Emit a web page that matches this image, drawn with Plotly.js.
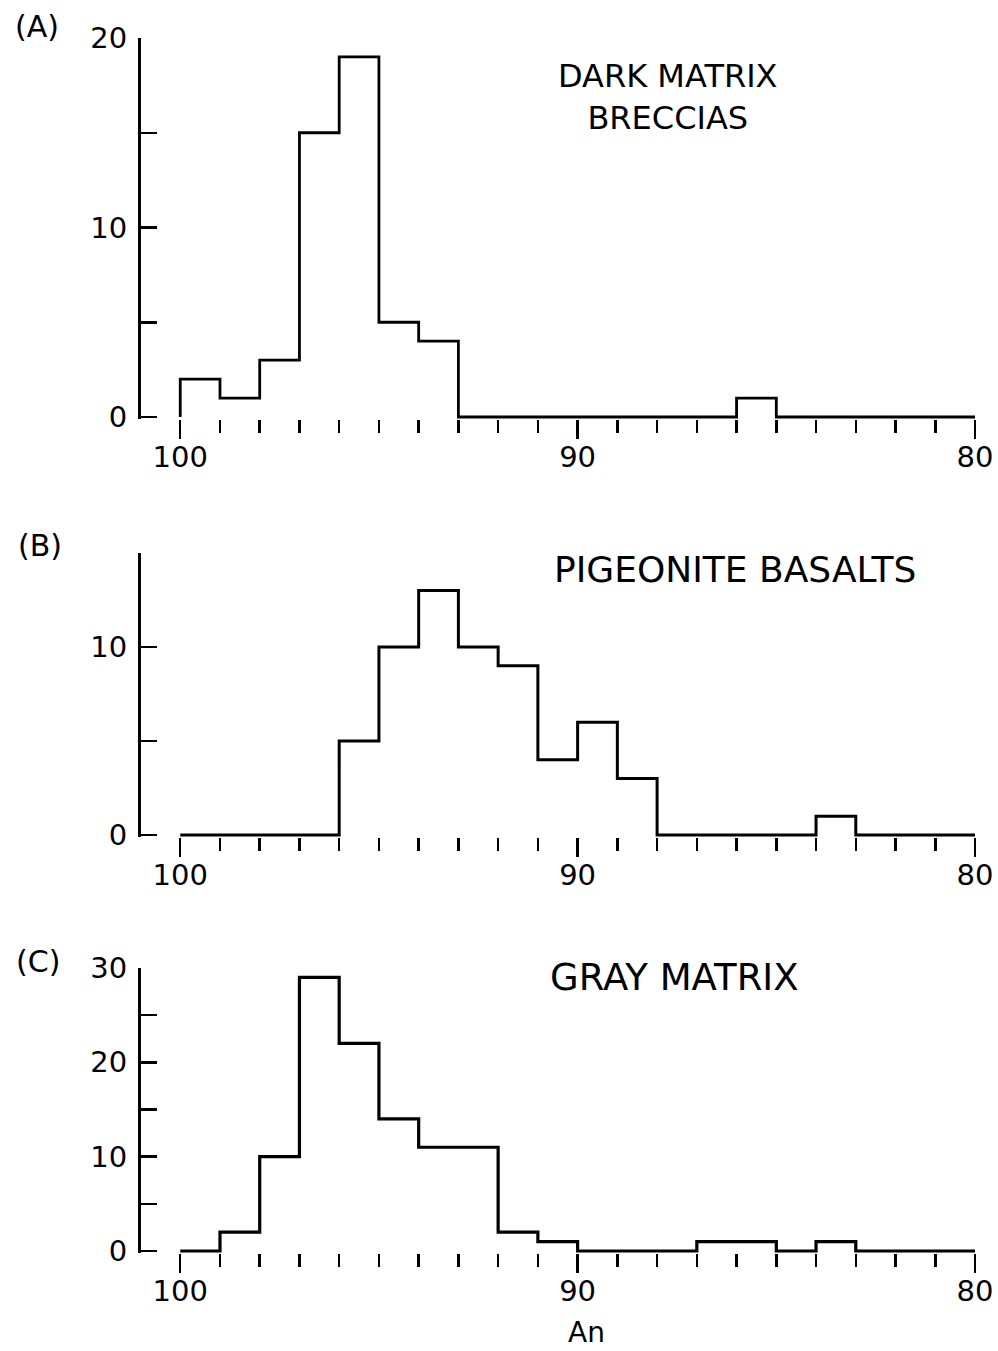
<!DOCTYPE html>
<html>
<head>
<meta charset="utf-8">
<script src="https://cdn.plot.ly/plotly-3.0.1.min.js"></script>
<style>
  html, body { margin: 0; padding: 0; background: #fff; }
  #chart { width: 998px; height: 1351px; }
</style>
</head>
<body>
<div id="chart"></div>
<script>
// ---- data ----
const binEdges = [100, 99, 98, 97, 96, 95, 94, 93, 92, 91, 90, 89, 88, 87, 86, 85, 84, 83, 82, 81, 80];
const countsA = [2, 1, 3, 15, 19, 5, 4, 0, 0, 0, 0, 0, 0, 0, 1, 0, 0, 0, 0, 0];
const countsB = [0, 0, 0, 0, 5, 10, 13, 10, 9, 4, 6, 3, 0, 0, 0, 0, 1, 0, 0, 0];
const countsC = [0, 2, 10, 29, 22, 14, 11, 11, 2, 1, 0, 0, 0, 1, 1, 0, 1, 0, 0, 0];
const xMajorTicks = [100, 90, 80];
const xMajorText = ['100', '90', '80'];
const yTicksA = [0, 5, 10, 15, 20];
const yTextA = ['0', '', '10', '', '20'];
const yTicksB = [0, 5, 10, 15];
const yTextB = ['0', '', '10', ''];
const yTicksC = [0, 5, 10, 15, 20, 25, 30];
const yTextC = ['0', '', '10', '', '20', '', '30'];
const panelLabels = ['(A)', '(B)', '(C)'];
const titleA = 'DARK MATRIX<br>BRECCIAS';
const titleB = 'PIGEONITE BASALTS';
const titleC = 'GRAY MATRIX';
const xAxisTitle = 'An';

// ---- helpers ----
const W = 998, H = 1351;
const px = x => x / W;
const py = y => 1 - y / H;
const FONT = 'DejaVu Sans, Liberation Sans, sans-serif';

function stepTrace(counts, xa, ya, lw) {
  const x = [binEdges[0]], y = [0];
  for (let i = 0; i < counts.length; i++) { x.push(binEdges[i]); y.push(counts[i]); }
  x.push(binEdges[binEdges.length - 1]); y.push(0);
  return { type: 'scatter', mode: 'lines', x: x, y: y, xaxis: xa, yaxis: ya,
           line: { shape: 'hv', color: '#000', width: lw }, hoverinfo: 'skip', showlegend: false };
}

const minorVals = binEdges.filter(v => xMajorTicks.indexOf(v) < 0);

function xaxisDef(anchor) {
  return {
    anchor: anchor,
    domain: [px(140.5), px(975)],
    range: [101.0, 80],
    showgrid: false, zeroline: false, showline: false,
    ticks: 'outside', ticklen: 19, tickwidth: 2.5, tickcolor: '#000',
    tickmode: 'array', tickvals: xMajorTicks, ticktext: xMajorText,
    tickfont: { family: FONT, size: 29, color: '#000' },
    ticklabelstandoff: -7,
    minor: { tickmode: 'array', tickvals: minorVals, ticks: 'outside', ticklen: 13, tickwidth: 2.5, tickcolor: '#000', showgrid: false },
    fixedrange: true
  };
}
function yaxisDef(anchor, top, zeroY, ymax, tv, tt) {
  const ppu = (zeroY - top) / ymax;
  const pad = 2 / ppu;
  const bottom = zeroY + pad * ppu;
  return {
    anchor: anchor,
    domain: [py(bottom), py(top)],
    range: [-pad, ymax],
    showgrid: false, zeroline: false,
    showline: true, linewidth: 2.5, linecolor: '#000',
    ticks: 'inside', ticklen: 16, tickwidth: 2.5, tickcolor: '#000',
    tickmode: 'array', tickvals: tv, ticktext: tt,
    tickfont: { family: FONT, size: 29, color: '#000' },
    ticklabelstandoff: 5,
    fixedrange: true
  };
}

const data = [
  stepTrace(countsA, 'x', 'y', 2.8),
  stepTrace(countsB, 'x2', 'y2', 3),
  stepTrace(countsC, 'x3', 'y3', 3.2)
];

function ann(text, x, y, size, extra) {
  return Object.assign({ text: text, x: px(x), y: py(y), xref: 'paper', yref: 'paper',
    xanchor: 'center', yanchor: 'middle', showarrow: false,
    font: { family: FONT, size: size, color: '#000' } }, extra || {});
}

const layout = {
  width: W, height: H,
  margin: { l: 0, r: 0, t: 0, b: 0 },
  paper_bgcolor: '#fff', plot_bgcolor: 'rgba(0,0,0,0)',
  showlegend: false,
  xaxis: xaxisDef('y'),
  yaxis: yaxisDef('x', 38, 417, 20, yTicksA, yTextA),
  xaxis2: xaxisDef('y2'),
  yaxis2: yaxisDef('x2', 553, 835, 15, yTicksB, yTextB),
  xaxis3: xaxisDef('y3'),
  yaxis3: yaxisDef('x3', 968, 1251, 30, yTicksC, yTextC),
  annotations: [
    ann(panelLabels[0], 37, 26, 30),
    ann(panelLabels[1], 40, 545, 30),
    ann(panelLabels[2], 38, 961, 30),
    ann(titleA, 668, 97, 32),
    ann(titleB, 735, 569, 36),
    ann(titleC, 674, 977, 37),
    ann(xAxisTitle, 586, 1351, 28, { yanchor: 'bottom' })
  ]
};

Plotly.newPlot('chart', data, layout, { staticPlot: true, displayModeBar: false });
</script>
</body>
</html>
